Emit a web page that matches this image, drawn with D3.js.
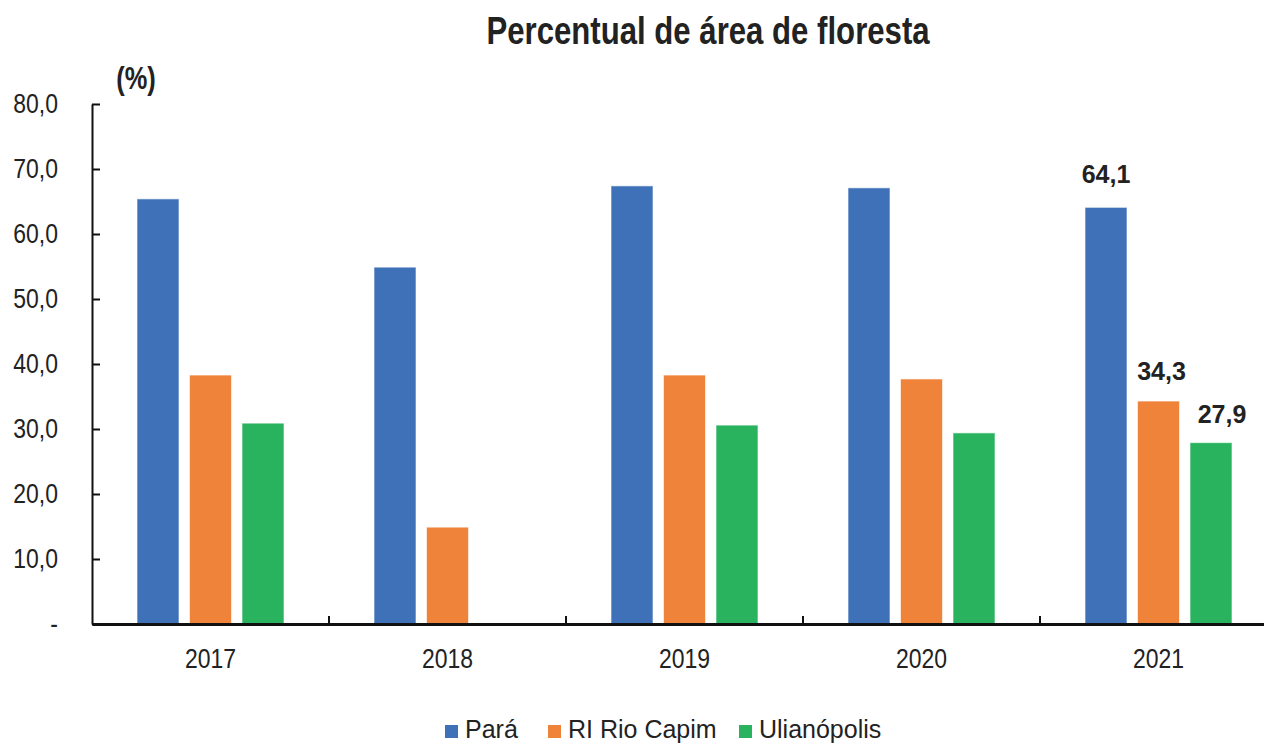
<!DOCTYPE html>
<html>
<head>
<meta charset="utf-8">
<script src="https://cdn.jsdelivr.net/npm/d3@7"></script>
<style>
  body { margin: 0; background: #fff; }
  svg { display: block; }
  text { font-family: "Liberation Sans", Arial, sans-serif; fill: #222; }
</style>
</head>
<body>
<svg id="chart" width="1264" height="744"></svg>
<script>
// data
const years = ['2017', '2018', '2019', '2020', '2021'];
const seriesNames = ['Pará', 'RI Rio Capim', 'Ulianópolis'];
const para = [65.4, 54.9, 67.4, 67.1, 64.1];
const rioCapim = [38.3, 14.9, 38.3, 37.7, 34.3];
const ulianopolis = [30.9, null, 30.6, 29.4, 27.9];
const yTicks = [0, 10, 20, 30, 40, 50, 60, 70, 80];
const colors = ['#3f71b8', '#f0833a', '#2ab35e'];

// no narrow font installed, squeeze regular one like Arial Narrow
const NARROW = 'scale(0.82,1)';

const svg = d3.select('#chart');

const margin = {top: 104, left: 92, bottom: 120};
const height = 744 - margin.top - margin.bottom;

const x0 = d3.scaleBand()
  .domain(years)
  .range([margin.left, margin.left + 5 * 237]);

const x1 = d3.scaleBand()
  .domain(seriesNames)
  .range([45, 192])
  .paddingInner(0.2);

const y = d3.scaleLinear()
  .domain([0, 80])
  .range([margin.top + height, margin.top]);

const values = [para, rioCapim, ulianopolis];
const fmt = v => d3.format('.1f')(v).replace('.', ',');

// title
svg.append('text')
  .attr('transform', 'translate(708,44) ' + NARROW)
  .attr('text-anchor', 'middle')
  .style('font-size', '38px')
  .style('font-weight', 'bold')
  .text('Percentual de área de floresta');

svg.append('text')
  .attr('transform', 'translate(136,89) ' + NARROW)
  .attr('text-anchor', 'middle')
  .style('font-size', '31px')
  .style('font-weight', 'bold')
  .text('(%)');

// bars
const labelDx = [0, 3, 11];
const labelDy = [24, 21, 20];

years.forEach((yr, i) => {
  const g = svg.append('g')
    .attr('transform', 'translate(' + x0(yr) + ',0)');

  values.forEach((vals, s) => {
    if (vals[i] == null) return;
    g.append('rect')
      .attr('x', x1(seriesNames[s]))
      .attr('y', y(vals[i]))
      .attr('width', x1.bandwidth())
      .attr('height', y(0) - y(vals[i]))
      .attr('fill', colors[s])
      .attr('stroke', 'rgba(255,255,255,0.6)')
      .attr('stroke-width', 1);

    // labels only on last year
    if (i === years.length - 1) {
      g.append('text')
        .attr('x', x1(seriesNames[s]) + x1.bandwidth() / 2 + labelDx[s])
        .attr('y', y(vals[i]) - labelDy[s])
        .attr('text-anchor', 'middle')
        .style('font-size', '25px')
        .style('font-weight', 'bold')
        .text(fmt(vals[i]));
    }
  });
});

// y axis
const yAxis = d3.axisLeft(y)
  .tickValues(yTicks)
  .tickSizeInner(-8)
  .tickSizeOuter(0)
  .tickFormat(d => d === 0 ? '-' : fmt(d));

const gy = svg.append('g')
  .attr('transform', 'translate(' + margin.left + ',0)')
  .call(yAxis);

gy.select('.domain').attr('stroke', '#111').attr('stroke-width', 2);
gy.selectAll('.tick line').attr('stroke', '#111').attr('stroke-width', 2);
gy.selectAll('.tick text')
  .attr('x', 0)
  .attr('transform', 'translate(-34,0) ' + NARROW)
  .style('font-size', '28px')
  .attr('fill', '#222');

// x axis
const xAxis = d3.axisBottom(x0)
  .tickSize(0)
  .tickPadding(24);

const gx = svg.append('g')
  .attr('transform', 'translate(0,' + y(0) + ')')
  .call(xAxis);

gx.select('.domain').attr('stroke', '#111').attr('stroke-width', 3);
gx.selectAll('.tick text')
  .attr('transform', NARROW)
  .style('font-size', '28px')
  .attr('fill', '#222');

// category boundary ticks
gx.selectAll('.sep')
  .data(years.slice(1))
  .enter()
  .append('line')
  .attr('class', 'sep')
  .attr('x1', d => x0(d))
  .attr('x2', d => x0(d))
  .attr('y1', 0)
  .attr('y2', -8)
  .attr('stroke', '#111')
  .attr('stroke-width', 2);

// legend
const legendX = [445, 548, 739];
const legend = svg.append('g');
seriesNames.forEach((name, s) => {
  legend.append('rect')
    .attr('x', legendX[s])
    .attr('y', 725)
    .attr('width', 13)
    .attr('height', 13)
    .attr('fill', colors[s]);
  legend.append('text')
    .attr('x', legendX[s] + 20)
    .attr('y', 738)
    .style('font-size', '25px')
    .text(name);
});
</script>
</body>
</html>
